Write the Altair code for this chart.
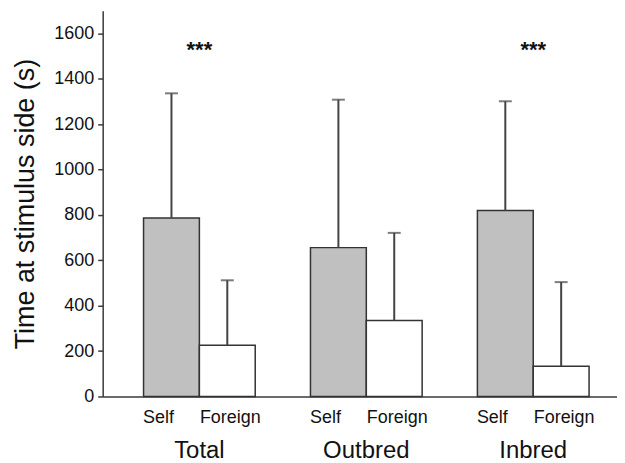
import altair as alt
import pandas as pd

groups = ["Total", "Outbred", "Inbred"]
conditions = ["Self", "Foreign"]
group_col = ["Total", "Total", "Outbred", "Outbred", "Inbred", "Inbred"]
cond_col = ["Self", "Foreign", "Self", "Foreign", "Self", "Foreign"]
means = [787, 226, 656, 335, 820, 133]
upper = [1336, 512, 1308, 721, 1301, 504]
sig_groups = ["Total", "Inbred"]
sig_text = ["***", "***"]
y_ticks = [0, 200, 400, 600, 800, 1000, 1200, 1400, 1600]

df = pd.DataFrame({"group": group_col, "condition": cond_col, "mean": means, "upper": upper})
sig_df = pd.DataFrame({"group": sig_groups, "sig": sig_text})

FONT = "Liberation Sans"
W, H = 516, 387

x_enc = alt.X(
    "group:N", sort=groups,
    scale=alt.Scale(paddingInner=0.331, paddingOuter=0.206, align=0.594),
    axis=alt.Axis(title=None, labelAngle=0, ticks=False, labelFontSize=24,
                  labelPadding=42, labelColor="#111111", labelFont=FONT,
                  domainColor="#3a3a3a", domainWidth=1.5),
)
xo_enc = alt.XOffset("condition:N", sort=conditions,
                     scale=alt.Scale(paddingInner=0, paddingOuter=0))
y_scale = alt.Scale(domain=[0, 1700], nice=False)

bars = alt.Chart(df).mark_bar(stroke="#333333", strokeWidth=1.5).encode(
    x=x_enc,
    xOffset=xo_enc,
    y=alt.Y("mean:Q", scale=y_scale,
            axis=alt.Axis(values=y_ticks, format="d", title="Time at stimulus side (s)",
                          titleFontSize=27, titleFontWeight="normal", titleFont=FONT,
                          titleColor="#111111", titlePadding=14,
                          labelFontSize=18, labelFont=FONT, labelColor="#111111",
                          labelPadding=4, tickSize=5, tickColor="#3a3a3a", tickWidth=1.5,
                          domainColor="#3a3a3a", domainWidth=1.5, grid=False)),
    color=alt.Color("condition:N", scale=alt.Scale(domain=conditions, range=["#c0c0c0", "#ffffff"]),
                    legend=None),
)

rules = alt.Chart(df).mark_rule(color="#444444", strokeWidth=2).encode(
    x=alt.X("group:N", sort=groups),
    xOffset=alt.XOffset("condition:N", sort=conditions),
    y=alt.Y("mean:Q"),
    y2="upper:Q",
)

caps = alt.Chart(df).mark_tick(orient="horizontal", size=13, thickness=2, color="#444444").encode(
    x=alt.X("group:N", sort=groups),
    xOffset=alt.XOffset("condition:N", sort=conditions),
    y=alt.Y("upper:Q"),
)

self_lbl = alt.Chart(df).transform_filter(alt.datum.condition == "Self").mark_text(
    fontSize=18, font=FONT, color="#111111", baseline="middle", dx=-13
).encode(
    x=alt.X("group:N", sort=groups),
    xOffset=alt.XOffset("condition:N", sort=conditions),
    y=alt.value(H + 22),
    text="condition:N",
)

foreign_lbl = alt.Chart(df).transform_filter(alt.datum.condition == "Foreign").mark_text(
    fontSize=18, font=FONT, color="#111111", baseline="middle", dx=3
).encode(
    x=alt.X("group:N", sort=groups),
    xOffset=alt.XOffset("condition:N", sort=conditions),
    y=alt.value(H + 22),
    text="condition:N",
)

stars = alt.Chart(sig_df).mark_text(fontSize=22, font=FONT, fontWeight="bold", color="#111111",
                                    baseline="middle").encode(
    x=alt.X("group:N", sort=groups),
    y=alt.datum(1525),
    text="sig:N",
)

chart = alt.layer(bars, rules, caps, self_lbl, foreign_lbl, stars).properties(
    width=W, height=H,
    padding={"left": 3, "top": 2, "right": 0, "bottom": 0},
).configure_view(stroke=None)

chart.save("out.html", embed_options={"renderer": "svg", "actions": False})
